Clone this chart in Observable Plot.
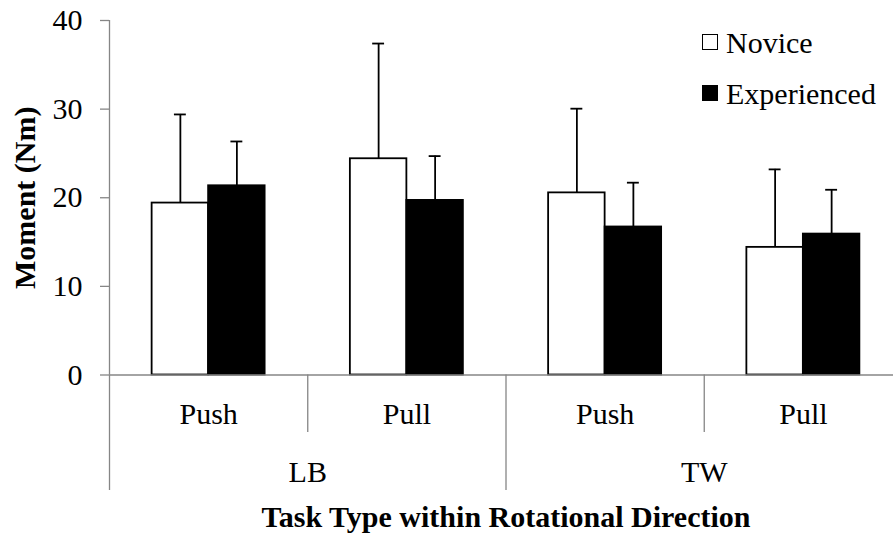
<!DOCTYPE html>
<html>
<head>
<meta charset="utf-8">
<script src="https://cdn.jsdelivr.net/npm/d3@7"></script>
<script src="https://cdn.jsdelivr.net/npm/@observablehq/plot@0.6"></script>
<style>
  html, body { margin: 0; padding: 0; background: #fff; overflow: hidden; font-family: 'Liberation Serif'; }
  #wrap { position: relative; width: 893px; height: 533px; overflow: hidden; font-family: 'Liberation Serif'; }
  #wrap svg { overflow: hidden; font-family: 'Liberation Serif' !important; }
  #wrap svg text { font-family: 'Liberation Serif' !important; }
  g[aria-label="x-axis label"] text, g[aria-label="y-axis label"] text { font-weight: bold; }
  .lg { position: absolute; font-family: 'Liberation Serif' !important; font-size: 30px; line-height: 30px; color: #000; white-space: nowrap; }
  .sw { position: absolute; width: 16px; height: 16px; box-sizing: border-box; border: 1.5px solid #000; }
</style>
</head>
<body>
<div id="wrap"></div>
<script>
// ---- data ----
const directions = ["LB", "TW"];
const tasks = ["Push", "Pull"];
const groups = ["Novice", "Experienced"];
const noviceMean = [19.4, 24.4, 20.55, 14.4];
const noviceSD   = [10.0, 13.0, 9.5, 8.8];
const expMean    = [21.35, 19.7, 16.7, 15.9];
const expSD      = [5.0, 5.0, 5.0, 5.0];
const yTicks = [0, 10, 20, 30, 40];
const xTitle = "Task Type within Rotational Direction";
const yTitle = "Moment (Nm)";

// ---- table ----
const cats = directions.flatMap(d => tasks.map(t => ({direction: d, task: t})));
const pad = 0.215, bw = 0.285, cap = 0.03;
const rows = [];
cats.forEach((c, i) => {
  [[noviceMean, noviceSD], [expMean, expSD]].forEach(([m, s], g) => {
    const x1 = i + pad + g * bw;
    rows.push({...c, group: groups[g], mean: m[i], sd: s[i], x1, x2: x1 + bw, xc: x1 + bw / 2});
  });
});
const taskTicks = cats.map((c, i) => i + 0.5);
const dirTicks = directions.map((d, j) => j * tasks.length + tasks.length / 2);
const subSep = directions.map((d, j) => j * tasks.length + 1);
const mainSep = d3.range(directions.length + 1).map(j => j * tasks.length);

const gray = "#868686";
const chart = Plot.plot({
  width: 893,
  height: 533,
  marginLeft: 109,
  marginRight: -9,
  marginTop: 20,
  marginBottom: 158.5,
  style: {fontFamily: "'Liberation Serif'", fontSize: "30px", color: "#000", background: "#fff"},
  x: {domain: [0, cats.length], axis: null},
  y: {domain: [0, 40], axis: null},
  marks: [
    Plot.ruleX([0], {stroke: gray, strokeWidth: 1.3}),
    Plot.axisY({ticks: yTicks, tickSize: 9, tickPadding: 18, stroke: gray, strokeWidth: 1.3, fill: "#000",
      label: yTitle, labelAnchor: "center", labelOffset: 96, labelArrow: false}),
    Plot.axisX({ticks: mainSep, tickSize: 115.5, tickFormat: () => "", stroke: gray, strokeWidth: 1.3, label: null}),
    Plot.axisX({ticks: subSep, tickSize: 57.5, tickFormat: () => "", stroke: gray, strokeWidth: 1.3, label: null}),
    Plot.axisX({ticks: taskTicks, tickSize: 0, tickPadding: 27.5, tickFormat: (v) => cats[Math.floor(v)].task, fill: "#000", label: null}),
    Plot.axisX({ticks: dirTicks, tickSize: 0, tickPadding: 86, tickFormat: (v) => directions[Math.floor(v / tasks.length)], fill: "#000",
      label: xTitle, labelAnchor: "center", labelOffset: 152, labelArrow: false}),
    Plot.rectY(rows, {x1: "x1", x2: "x2", y1: 0, y2: "mean", fill: d => d.group === "Novice" ? "#fff" : "#000", stroke: "#000", strokeWidth: 1.8}),
    Plot.ruleX(rows, {x: "xc", y1: "mean", y2: d => d.mean + d.sd, stroke: "#000", strokeWidth: 1.8}),
    Plot.ruleY(rows, {y: d => d.mean + d.sd, x1: d => d.xc - cap, x2: d => d.xc + cap, stroke: "#000", strokeWidth: 1.8}),
    Plot.ruleY([0], {stroke: gray, strokeWidth: 1.3})
  ]
});
const wrap = document.getElementById("wrap");
wrap.appendChild(chart);

// legend
const legendItems = [
  {label: groups[0], fill: "#fff", sx: 702, sy: 33.5, tx: 726, ty: 28},
  {label: groups[1], fill: "#000", sx: 702, sy: 85, tx: 726, ty: 79}
];
for (const it of legendItems) {
  const s = document.createElement("div");
  s.className = "sw";
  s.style.left = it.sx + "px"; s.style.top = it.sy + "px"; s.style.background = it.fill;
  wrap.appendChild(s);
  const t = document.createElement("div");
  t.className = "lg";
  t.style.left = it.tx + "px"; t.style.top = it.ty + "px";
  t.textContent = it.label;
  wrap.appendChild(t);
}
</script>
</body>
</html>
